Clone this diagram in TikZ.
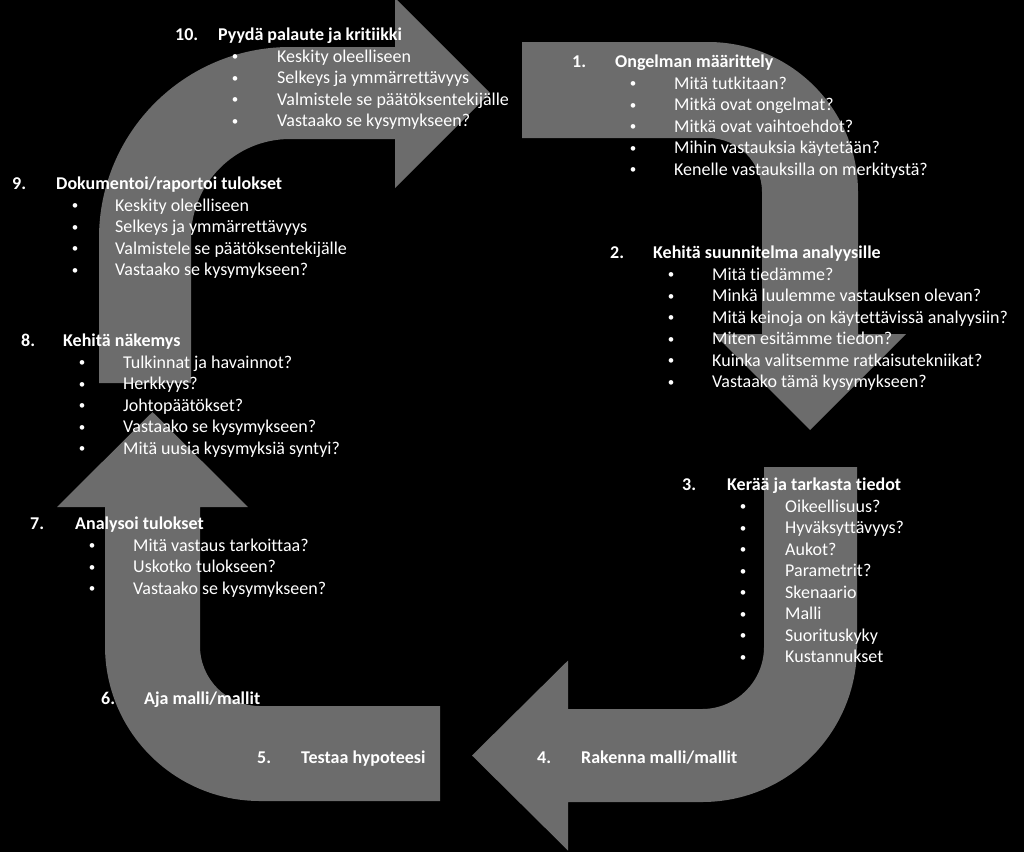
\documentclass[tikz,border=0pt]{standalone}
\usepackage{fontspec}
\setmainfont{Carlito}[Ligatures={NoCommon}]
\definecolor{arrowgrey}{RGB}{108,108,108}
\tikzset{
  bigarrow/.style={fill=arrowgrey, draw=none},
  txt/.style={text=white, font=\fontsize{18}{18}\selectfont, anchor=base west, inner sep=0pt},
  hd/.style={txt, font=\fontsize{18}{18}\selectfont\bfseries},
  bul/.style={text=white, font=\fontsize{13}{13}\selectfont, anchor=base, inner sep=0pt},
}
% \itemblock{name}{xnum}{xhead}{xbullet}{xtext}{yhead}{number}{heading}{list}
\newcommand{\itemblock}[9]{%
  \node[hd] (#1-num) at (#2,#6+5.5) {#7};
  \node[hd] (#1-head) at (#3,#6+5.5) {#8};
  \foreach \t [count=\i] in {#9} {
    \node[bul] (#1-b\i) at (#4,#6+4+21.5*\i) {•};
    \node[txt] (#1-t\i) at (#5,#6+5.5+21.5*\i) {\t};
  }
}
\begin{document}
\begin{tikzpicture}[x=1pt,y=-1pt]
\fill[black] (0,0) rectangle (1024,852);
\useasboundingbox (0,0) rectangle (1024,852);

% Arrow A (top-left, pointing right)
\path[bigarrow] (99,383) -- (99,238) arc[start angle=180,end angle=270,radius=191]
  -- (395,47) -- (395,-2) -- (490,93) -- (395,188) -- (395,139) -- (290,139)
  arc[start angle=270,end angle=180,radius=99] -- (191,383) -- cycle;
% Arrow B (top-right, pointing down)
\path[bigarrow] (522,42) -- (708,42) arc[start angle=270,end angle=360,radius=150]
  -- (858,334) -- (906,334) -- (810,430) -- (714,334) -- (762,334) -- (762,192)
  arc[start angle=0,end angle=-90,radius=54] -- (522,138) -- cycle;
% Arrow C (bottom-right, pointing left)
\path[bigarrow] (764,467) -- (857,467) -- (857,647) arc[start angle=0,end angle=90,radius=155]
  -- (568,802) -- (568,850.5) -- (472,755.5) -- (568,660.5) -- (568,709) -- (702,709)
  arc[start angle=90,end angle=0,radius=62] -- cycle;
% Arrow D (bottom-left, pointing up)
\path[bigarrow] (440,801) -- (260,801) arc[start angle=90,end angle=180,radius=155]
  -- (105,507) -- (57,507) -- (152.5,412) -- (248,507) -- (200,507) -- (200,646)
  arc[start angle=180,end angle=90,radius=60] -- (440,706) -- cycle;

% Texts
\itemblock{s10}{175}{218}{235}{277}{35}{10.}{Pyydä palaute ja kritiikki}
  {Keskity oleelliseen,Selkeys ja ymmärrettävyys,Valmistele se päätöksentekijälle,Vastaako se kysymykseen?}
\itemblock{s1}{572}{615}{633}{674}{62}{1.}{Ongelman määrittely}
  {Mitä tutkitaan?,Mitkä ovat ongelmat?,Mitkä ovat vaihtoehdot?,Mihin vastauksia käytetään?,Kenelle vastauksilla on merkitystä?}
\itemblock{s2}{610}{653}{671}{712}{253}{2.}{Kehitä suunnitelma analyysille}
  {Mitä tiedämme?,Minkä luulemme vastauksen olevan?,Mitä keinoja on käytettävissä analyysiin?,Miten esitämme tiedon?,Kuinka valitsemme ratkaisutekniikat?,Vastaako tämä kysymykseen?}
\itemblock{s3}{682}{727}{743}{785}{485}{3.}{Kerää ja tarkasta tiedot}
  {Oikeellisuus?,Hyväksyttävyys?,Aukot?,Parametrit?,Skenaario,Malli,Suorituskyky,Kustannukset}
\node[hd] (s4-num) at (537,763.5) {4.};
\node[hd] (s4-head) at (581,763.5) {Rakenna malli/mallit};
\node[hd] (s5-num) at (257,763.5) {5.};
\node[hd] (s5-head) at (301,763.5) {Testaa hypoteesi};
\node[hd] (s6-num) at (101,704.5) {6.};
\node[hd] (s6-head) at (144,704.5) {Aja malli/mallit};
\itemblock{s7}{30}{75}{92}{133}{524}{7.}{Analysoi tulokset}
  {Mitä vastaus tarkoittaa?,Uskotko tulokseen?,Vastaako se kysymykseen?}
\itemblock{s8}{21}{63}{82}{123}{341}{8.}{Kehitä näkemys}
  {Tulkinnat ja havainnot?,Herkkyys?,Johtopäätökset?,Vastaako se kysymykseen?,Mitä uusia kysymyksiä syntyi?}
\itemblock{s9}{12}{56}{75}{115}{184}{9.}{Dokumentoi/raportoi tulokset}
  {Keskity oleelliseen,Selkeys ja ymmärrettävyys,Valmistele se päätöksentekijälle,Vastaako se kysymykseen?}
\end{tikzpicture}
\end{document}
